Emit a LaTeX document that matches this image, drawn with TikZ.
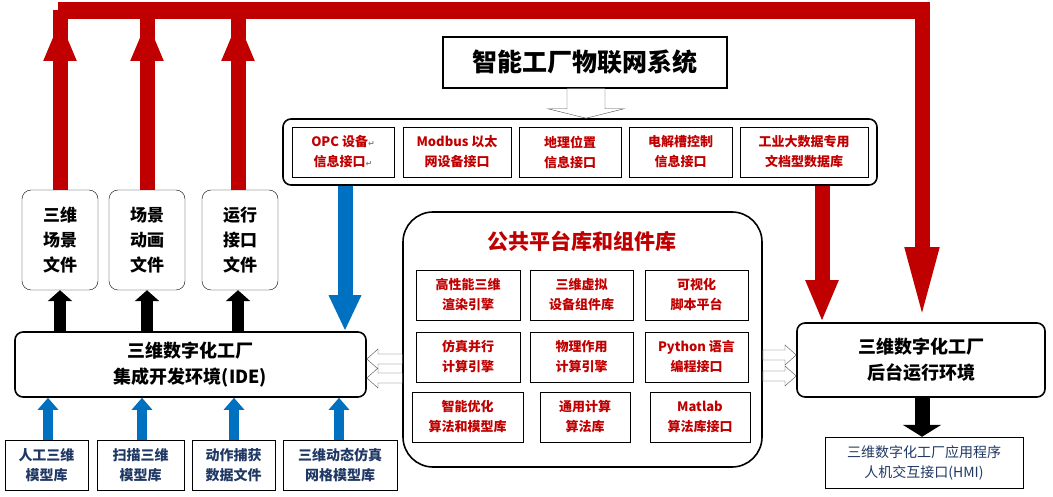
\documentclass[tikz,border=0pt]{standalone}
\usepackage{fontspec}
\setmainfont{Noto Sans CJK SC}
\newfontfamily\symfont{DejaVu Sans}
\usetikzlibrary{arrows.meta,calc,positioning}

\definecolor{myred}{RGB}{192,0,0}
\definecolor{myblue}{RGB}{0,112,192}
\definecolor{mynavy}{RGB}{31,56,100}

\tikzset{
  rbox/.style = {draw, rounded corners=8pt, line width=1.6pt, align=center, font=\bfseries},
  filebox/.style = {draw, rounded corners=9pt, thin, minimum width=76pt, minimum height=100pt, align=center, font=\bfseries\fontsize{17}{25}\selectfont},
  srcbox/.style = {draw, thin, minimum height=50pt, align=center, text=mynavy, font=\bfseries\fontsize{14}{20}\selectfont},
  iface/.style = {draw, thin, minimum height=50pt, align=center, text=myred, font=\bfseries\fontsize{13}{20}\selectfont},
  redarrow/.style = {draw=myred, line width=15pt, -{Triangle[width=30pt,length=42pt]}},
  blkarrow/.style = {draw=black, line width=12pt, -{Triangle[width=24pt,length=11pt]}},
  bluearrow/.style = {draw=myblue, line width=10pt, -{Triangle[width=20pt,length=12pt]}},
  hollow/.style = {draw=black!70, fill=white, thin},
}
\newcommand{\ret}{{\color{gray}\symfont\fontsize{8}{8}\selectfont ↵}}

\begin{document}
\begin{tikzpicture}[x=1pt,y=-1pt]
\useasboundingbox (0,0) rectangle (1053,497);

% top bar
\coordinate (barL) at (58,10.5);
\coordinate (barR) at (930,10.5);
\draw[myred, line width=17pt] (barL) -- (barR);

% files
\node[filebox] (f1) at (60,240) {三维\\场景\\文件};
\node[filebox] (f2) at (147,240) {场景\\动画\\文件};
\node[filebox] (f3) at (240,240) {运行\\接口\\文件};

% IDE
\node[rbox, minimum width=351pt, minimum height=65pt, font=\bfseries\fontsize{18}{26}\selectfont] (ide) at (190.5,364.5) {三维数字化工厂\\集成开发环境(IDE)};

% sources
\node[srcbox, minimum width=83pt] (s1) at (46.5,465) {人工三维\\模型库};
\node[srcbox, minimum width=87pt] (s2) at (140.5,465) {扫描三维\\模型库};
\node[srcbox, minimum width=83pt] (s3) at (233.5,465) {动作捕获\\数据文件};
\node[srcbox, minimum width=114pt] (s4) at (340,465) {三维动态仿真\\网格模型库};

% IoT
\node[draw, line width=1.5pt, minimum width=284pt, minimum height=51pt, font=\bfseries\fontsize{25}{25}\selectfont] (iot) at (585,62.5) {智能工厂物联网系统};
\node[rbox, minimum width=594pt, minimum height=66pt] (panel) at (580,152) {};
\node[iface, minimum width=102pt] (i1) at (343,152) {OPC 设备\ret\\信息接口\ret};
\node[iface, minimum width=108pt] (i2) at (457,152) {Modbus 以太\\网设备接口};
\node[iface, minimum width=102pt] (i3) at (570,152) {地理位置\\信息接口};
\node[iface, minimum width=103pt] (i4) at (680.5,152) {电解槽控制\\信息接口};
\node[iface, minimum width=128pt] (i5) at (804,152) {工业大数据专用\\文档型数据库};

% platform
\node[draw, rounded corners=30pt, line width=1.6pt, minimum width=359pt, minimum height=255pt] (plat) at (582.5,339.5) {};
\node[text=myred, font=\bfseries\fontsize{21}{21}\selectfont] (ptitle) at (582,241) {公共平台库和组件库};
\node[iface, minimum width=104pt] (p1) at (468,295) {高性能三维\\渲染引擎};
\node[iface, minimum width=103pt] (p2) at (581.5,295) {三维虚拟\\设备组件库};
\node[iface, minimum width=103pt] (p3) at (696.5,295) {可视化\\脚本平台};
\node[iface, minimum width=104pt] (p4) at (468,357) {仿真并行\\计算引擎};
\node[iface, minimum width=103pt] (p5) at (581.5,357) {物理作用\\计算引擎};
\node[iface, minimum width=103pt] (p6) at (696.5,357) {Python 语言\\编程接口};
\node[iface, minimum width=111pt] (p7) at (467.5,417) {智能优化\\算法和模型库};
\node[iface, minimum width=90pt] (p8) at (585,417) {通用计算\\算法库};
\node[iface, minimum width=100pt] (p9) at (700,417) {Matlab\\算法库接口};

% runtime
\node[rbox, minimum width=248pt, minimum height=74pt, font=\bfseries\fontsize{18}{26}\selectfont] (run) at (921,360) {三维数字化工厂\\后台运行环境};
\node[srcbox, minimum width=198pt, minimum height=51pt, font=\mdseries\fontsize{14}{20}\selectfont] (hmi) at (924,462.5) {三维数字化工厂应用程序\\人机交互接口(HMI)};

% connectors
\foreach \f/\x in {f1/60,f2/147,f3/238}{
  \draw[redarrow] (\f.north -| \x,0) -- (barL -| \x,0) ++(0,8.5);
  \draw[blkarrow] (ide.north -| \x,0) -- (\f.south -| \x,0);
}
\foreach \s/\x in {s1/48,s2/142,s3/234,s4/339}
  \draw[bluearrow] (\s.north -| \x,0) -- (ide.south -| \x,0);
\draw[myblue, line width=15pt, -{Triangle[width=30pt,length=36pt]}] (panel.south -| 345,0) -- (ide.north -| 345,0);
\draw[redarrow] (panel.south -| 822,0) -- (run.north -| 822,0);
\draw[redarrow, -{Triangle[width=30pt,length=75pt]}] ($(barR)+(-8,-8.5)$) -- (run.north -| 922,0);
\draw[draw=black, line width=15pt, -{Triangle[width=38pt,length=12pt]}] (run.south -| 922,0) -- (hmi.north -| 922,0);

% hollow arrows
\draw[hollow] ($(iot.south)+(-18,0)$) -- ++(0,20) -- ++(-19,0) -- (panel.north -| 586,0) -- ($(iot.south)+(39,20)$) -- ++(-19,0) -- ($(iot.south)+(20,0)$) -- cycle;
\foreach \y in {359,378}{
  \draw[hollow] (plat.west |- 0,\y-5) -- (378,\y-5) -- (378,\y-10) -- (ide.east |- 0,\y) -- (378,\y+10) -- (378,\y+5) -- (plat.west |- 0,\y+5) -- cycle;
}
\foreach \y in {355,376}{
  \draw[hollow] (plat.east |- 0,\y-5) -- (785,\y-5) -- (785,\y-10) -- (run.west |- 0,\y) -- (785,\y+10) -- (785,\y+5) -- (plat.east |- 0,\y+5) -- cycle;
}
\end{tikzpicture}
\end{document}
